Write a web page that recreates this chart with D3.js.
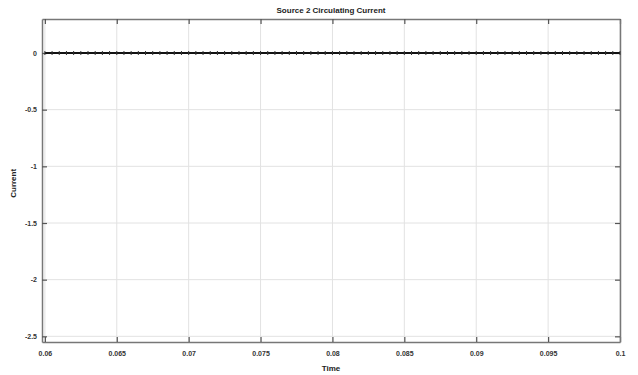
<!DOCTYPE html>
<html>
<head>
<meta charset="utf-8">
<script src="https://cdn.jsdelivr.net/npm/d3@7"></script>
<style>
  body { margin: 0; background: #fff; }
  text { font-family: "Liberation Sans", Arial, sans-serif; }
</style>
</head>
<body>
<div id="chart"></div>
<script>
const time = [
  0.06, 0.0605, 0.061, 0.0615, 0.062, 0.0625, 0.063, 0.0635, 0.064, 0.0645,
  0.065, 0.0655, 0.066, 0.0665, 0.067, 0.0675, 0.068, 0.0685, 0.069, 0.0695,
  0.07, 0.0705, 0.071, 0.0715, 0.072, 0.0725, 0.073, 0.0735, 0.074, 0.0745,
  0.075, 0.0755, 0.076, 0.0765, 0.077, 0.0775, 0.078, 0.0785, 0.079, 0.0795,
  0.08, 0.0805, 0.081, 0.0815, 0.082, 0.0825, 0.083, 0.0835, 0.084, 0.0845,
  0.085, 0.0855, 0.086, 0.0865, 0.087, 0.0875, 0.088, 0.0885, 0.089, 0.0895,
  0.09, 0.0905, 0.091, 0.0915, 0.092, 0.0925, 0.093, 0.0935, 0.094, 0.0945,
  0.095, 0.0955, 0.096, 0.0965, 0.097, 0.0975, 0.098, 0.0985, 0.099, 0.0995,
  0.1
];
const current = [
  0, 0, 0, 0, 0, 0, 0, 0, 0, 0,
  0, 0, 0, 0, 0, 0, 0, 0, 0, 0,
  0, 0, 0, 0, 0, 0, 0, 0, 0, 0,
  0, 0, 0, 0, 0, 0, 0, 0, 0, 0,
  0, 0, 0, 0, 0, 0, 0, 0, 0, 0,
  0, 0, 0, 0, 0, 0, 0, 0, 0, 0,
  0, 0, 0, 0, 0, 0, 0, 0, 0, 0,
  0, 0, 0, 0, 0, 0, 0, 0, 0, 0,
  0
];
const xTicks = [0.06, 0.065, 0.07, 0.075, 0.08, 0.085, 0.09, 0.095, 0.1];
const xTickLabels = ["0.06", "0.065", "0.07", "0.075", "0.08", "0.085", "0.09", "0.095", "0.1"];
const yTicks = [0, -0.5, -1, -1.5, -2, -2.5];
const yTickLabels = ["0", "-0.5", "-1", "-1.5", "-2", "-2.5"];

const data = time.map((t, i) => ({ t: t, v: current[i] }));

// set the dimensions and margins of the graph
const margin = { top: 19, right: 18, bottom: 33, left: 42 },
  width = 638 - margin.left - margin.right,
  height = 375 - margin.top - margin.bottom;

const svg = d3
  .select("#chart")
  .append("svg")
  .attr("width", width + margin.left + margin.right)
  .attr("height", height + margin.top + margin.bottom)
  .append("g")
  .attr("transform", `translate(${margin.left},${margin.top})`);

const x = d3.scaleLinear().domain([0.0598, 0.1]).range([0, width]);
const y = d3.scaleLinear().domain([-2.55, 0.3]).range([height, 0]);

// grid
svg
  .append("g")
  .selectAll("line")
  .data(xTicks)
  .join("line")
  .attr("x1", (d) => x(d))
  .attr("x2", (d) => x(d))
  .attr("y1", 0)
  .attr("y2", height)
  .attr("stroke", "#e2e2e2")
  .attr("stroke-width", 1);
svg
  .append("g")
  .selectAll("line")
  .data(yTicks)
  .join("line")
  .attr("x1", 0)
  .attr("x2", width)
  .attr("y1", (d) => y(d))
  .attr("y2", (d) => y(d))
  .attr("stroke", "#e2e2e2")
  .attr("stroke-width", 1);

// axes, ticks pointing inward like matlab
const fmtX = (d) => xTickLabels[xTicks.indexOf(d)];
const fmtY = (d) => yTickLabels[yTicks.indexOf(d)];

const styleAxis = (g) => {
  g.select(".domain").attr("stroke", "#777").attr("stroke-width", 1.5);
  g.selectAll(".tick line").attr("stroke", "#555").attr("stroke-width", 1.2);
  g.selectAll(".tick text")
    .attr("fill", "#333")
    .attr("font-size", 7)
    .attr("font-weight", "bold");
};

svg
  .append("g")
  .attr("transform", `translate(0, ${height})`)
  .call(d3.axisBottom(x).tickValues(xTicks).tickFormat(fmtX).tickSizeInner(-5).tickSizeOuter(0).tickPadding(9))
  .call(styleAxis);
svg
  .append("g")
  .call(d3.axisTop(x).tickValues(xTicks).tickFormat("").tickSizeInner(-5).tickSizeOuter(0))
  .call(styleAxis);
svg
  .append("g")
  .call(d3.axisLeft(y).tickValues(yTicks).tickFormat(fmtY).tickSizeInner(-5).tickSizeOuter(0).tickPadding(5))
  .call(styleAxis);
svg
  .append("g")
  .attr("transform", `translate(${width}, 0)`)
  .call(d3.axisRight(y).tickValues(yTicks).tickFormat("").tickSizeInner(-5).tickSizeOuter(0))
  .call(styleAxis);

// the line
svg
  .append("path")
  .datum(data)
  .attr("fill", "none")
  .attr("stroke", "#111")
  .attr("stroke-width", 2)
  .attr(
    "d",
    d3
      .line()
      .x((d) => x(d.t))
      .y((d) => y(d.v))
  );

// small markers on the samples
svg
  .append("g")
  .selectAll("line")
  .data(data)
  .join("line")
  .attr("x1", (d) => x(d.t))
  .attr("x2", (d) => x(d.t))
  .attr("y1", (d) => y(d.v) - 2)
  .attr("y2", (d) => y(d.v) + 2)
  .attr("stroke", "#333")
  .attr("stroke-width", 1);

// titles
svg
  .append("text")
  .attr("x", width / 2)
  .attr("y", -6)
  .attr("text-anchor", "middle")
  .attr("font-size", 8)
  .attr("font-weight", "bold")
  .attr("fill", "#222")
  .text("Source 2 Circulating Current");

svg
  .append("text")
  .attr("x", width / 2)
  .attr("y", height + 29)
  .attr("text-anchor", "middle")
  .attr("font-size", 8)
  .attr("font-weight", "bold")
  .attr("fill", "#222")
  .text("Time");

svg
  .append("text")
  .attr("transform", `translate(-26, ${y(-1.15)}) rotate(-90)`)
  .attr("text-anchor", "middle")
  .attr("font-size", 8)
  .attr("font-weight", "bold")
  .attr("fill", "#222")
  .text("Current");
</script>
</body>
</html>
